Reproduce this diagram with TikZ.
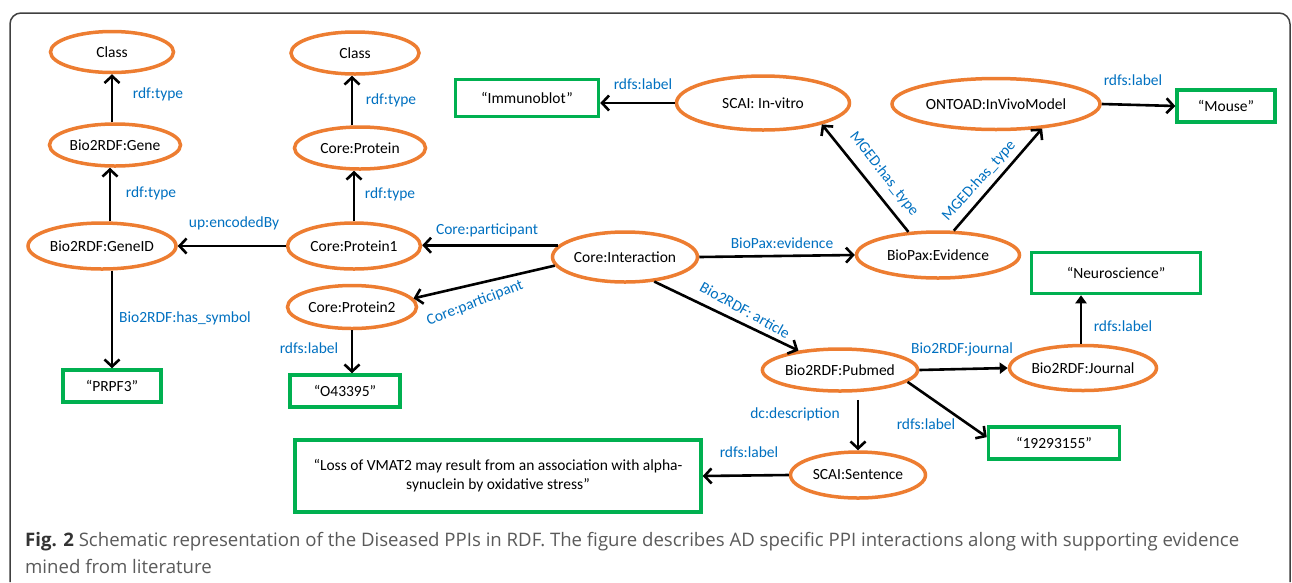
\documentclass[tikz,border=0pt]{standalone}
\usepackage{fontspec}
\setmainfont{Carlito}
\newfontfamily\capfont{Open Sans}
\usetikzlibrary{shapes.geometric,arrows.meta}
\definecolor{ora}{RGB}{237,125,49}
\definecolor{grn}{RGB}{0,176,80}
\definecolor{lblue}{RGB}{0,112,192}
\definecolor{capgray}{RGB}{90,90,90}
\begin{document}
\begin{tikzpicture}[x=1pt,y=-1pt,
  ell/.style={ellipse,draw=ora,line width=3.5pt,inner sep=0pt,font=\fontsize{15.5}{18}\selectfont},
  lit/.style={rectangle,draw=grn,line width=3.5pt,inner sep=0pt,font=\fontsize{15.5}{18}\selectfont},
  arr/.style={line width=2.6pt,-{Straight Barb[length=7pt,width=15pt]}},
  arrf/.style={line width=2.6pt,-{Triangle[length=8pt,width=11pt]}},
  lab/.style={text=lblue,font=\fontsize{15.5}{18}\selectfont,inner sep=0pt}]
\useasboundingbox (0,0) rectangle (1292,582);
\draw[line width=1.5pt,black!75,rounded corners=11pt] (10,582) -- (10,13) -- (1290,13) -- (1290,582);

% ellipses
\node[ell,minimum width=123,minimum height=41] (class1) at (112,52) {Class};
\node[ell,minimum width=128,minimum height=42] (class2) at (355,53) {Class};
\node[ell,minimum width=131,minimum height=42] (gene) at (115,145) {Bio2RDF:Gene};
\node[ell,minimum width=131,minimum height=42] (prot) at (360,148) {Core:Protein};
\node[ell,minimum width=148,minimum height=46] (geneid) at (102,246) {Bio2RDF:GeneID};
\node[ell,minimum width=133,minimum height=46] (p1) at (354,246) {Core:Protein1};
\node[ell,minimum width=129,minimum height=43] (p2) at (352,307) {Core:Protein2};
\node[ell,minimum width=145,minimum height=50] (inter) at (625,257) {Core:Interaction};
\node[ell,minimum width=173,minimum height=54] (invitro) at (763,103) {SCAI: In-vitro};
\node[ell,minimum width=208,minimum height=51] (onto) at (996,104) {ONTOAD:InVivoModel};
\node[ell,minimum width=163,minimum height=46] (evid) at (938,255) {BioPax:Evidence};
\node[ell,minimum width=145,minimum height=42] (pub) at (840,370) {Bio2RDF:Pubmed};
\node[ell,minimum width=147,minimum height=45] (jour) at (1083,368) {Bio2RDF:Journal};
\node[ell,minimum width=135,minimum height=46] (sent) at (858,475) {SCAI:Sentence};

% literal boxes
\node[lit,minimum width=143,minimum height=37] (immuno) at (527,98) {“Immunoblot”};
\node[lit,minimum width=98,minimum height=32] (mouse) at (1226,106) {“Mouse”};
\node[lit,minimum width=169,minimum height=41] (neuro) at (1116,273) {“Neuroscience”};
\node[lit,minimum width=98,minimum height=32] (prpf) at (112,386) {“PRPF3”};
\node[lit,minimum width=110,minimum height=32] (o43) at (345,391) {“O43395”};
\node[lit,minimum width=131,minimum height=32] (num) at (1054,443) {“19293155”};
\node[lit,minimum width=406,minimum height=72,align=center,font=\fontsize{15.5}{19}\selectfont] (loss) at (498,476) {“Loss of VMAT2 may result from an association with alpha-\\synuclein by oxidative stress”};

% connectors
\draw[arr] (class1.south |- gene.north) -- (class1.south);
\draw[arr] ([xshift=8pt]geneid.north) -- ([xshift=8pt]geneid.north |- gene.south);
\draw[arr] ([xshift=-3pt]class2.south |- prot.north) -- ([xshift=-3pt]class2.south);
\draw[arr] (p1.north) -- (p1.north |- prot.south);
\draw[arr] (p1.west) -- (geneid.east);
\draw[arr] (prpf.north |- geneid.south) -- (prpf.north);
\draw[arr] (inter.170) -- (p1.east |- inter.170);
\draw[arr] (inter.187) -- (p2.8);
\draw[arr] (p2.south) -- (p2.south |- o43.north);
\draw[arr] (inter.east) -- (evid.west);
\draw[arr] (inter.-40) -- (pub.155);
\draw[arr] (evid.142) -- (invitro.-20);
\draw[arr] (evid.57) -- (onto.-28);
\draw[arr] (invitro.west) -- (immuno.east |- invitro.west);
\draw[arr] (onto.east) -- (mouse.west);
\draw[arrf] (pub.east) -- (jour.west);
\draw[arrf] (jour.north -| 1081,0) -- (neuro.south -| 1081,0);
\draw[arr] (pub.-10) -- (num.175);
\draw[arr] ([yshift=-7pt]sent.north |- pub.south) -- (sent.north);
\draw[arr] (sent.west) -- (loss.east);

% labels
\node[lab] (l1) at (158,94) {rdf:type};
\node[lab] (l2) at (151,193) {rdf:type};
\node[lab] (l3) at (391,100) {rdf:type};
\node[lab] (l4) at (390,194) {rdf:type};
\node[lab] (l5) at (234,223) {up:encodedBy};
\node[lab] (l6) at (487,230) {Core:participant};
\node[lab,rotate=21] (l7) at (475,303) {Core:participant};
\node[lab] (l8) at (185,318) {Bio2RDF:has\_symbol};
\node[lab] (l9) at (309,348) {rdfs:label};
\node[lab] (l10) at (643,84) {rdfs:label};
\node[lab] (l11) at (782,243) {BioPax:evidence};
\node[lab,rotate=-29] (l12) at (745,310) {Bio2RDF: article};
\node[lab,rotate=-52] (l13) at (884,174) {MGED:has\_type};
\node[lab,rotate=48] (l14) at (979,181) {MGED:has\_type};
\node[lab] (l15) at (1133,80) {rdfs:label};
\node[lab] (l16) at (1123,326) {rdfs:label};
\node[lab] (l17) at (962,349) {Bio2RDF:journal};
\node[lab] (l18) at (926,424) {rdfs:label};
\node[lab] (l19) at (795,414) {dc:description};
\node[lab] (l20) at (749,452) {rdfs:label};

% caption
\node[anchor=base west,align=left,inner sep=0pt,text=capgray,font=\capfont\fontsize{18.6}{26.5}\selectfont] (cap) at (25,573)
 {{\bfseries\color{black!80}Fig. 2} Schematic representation of the Diseased PPIs in RDF. The figure describes AD specific PPI interactions along with supporting evidence\\mined from literature};
\end{tikzpicture}
\end{document}
